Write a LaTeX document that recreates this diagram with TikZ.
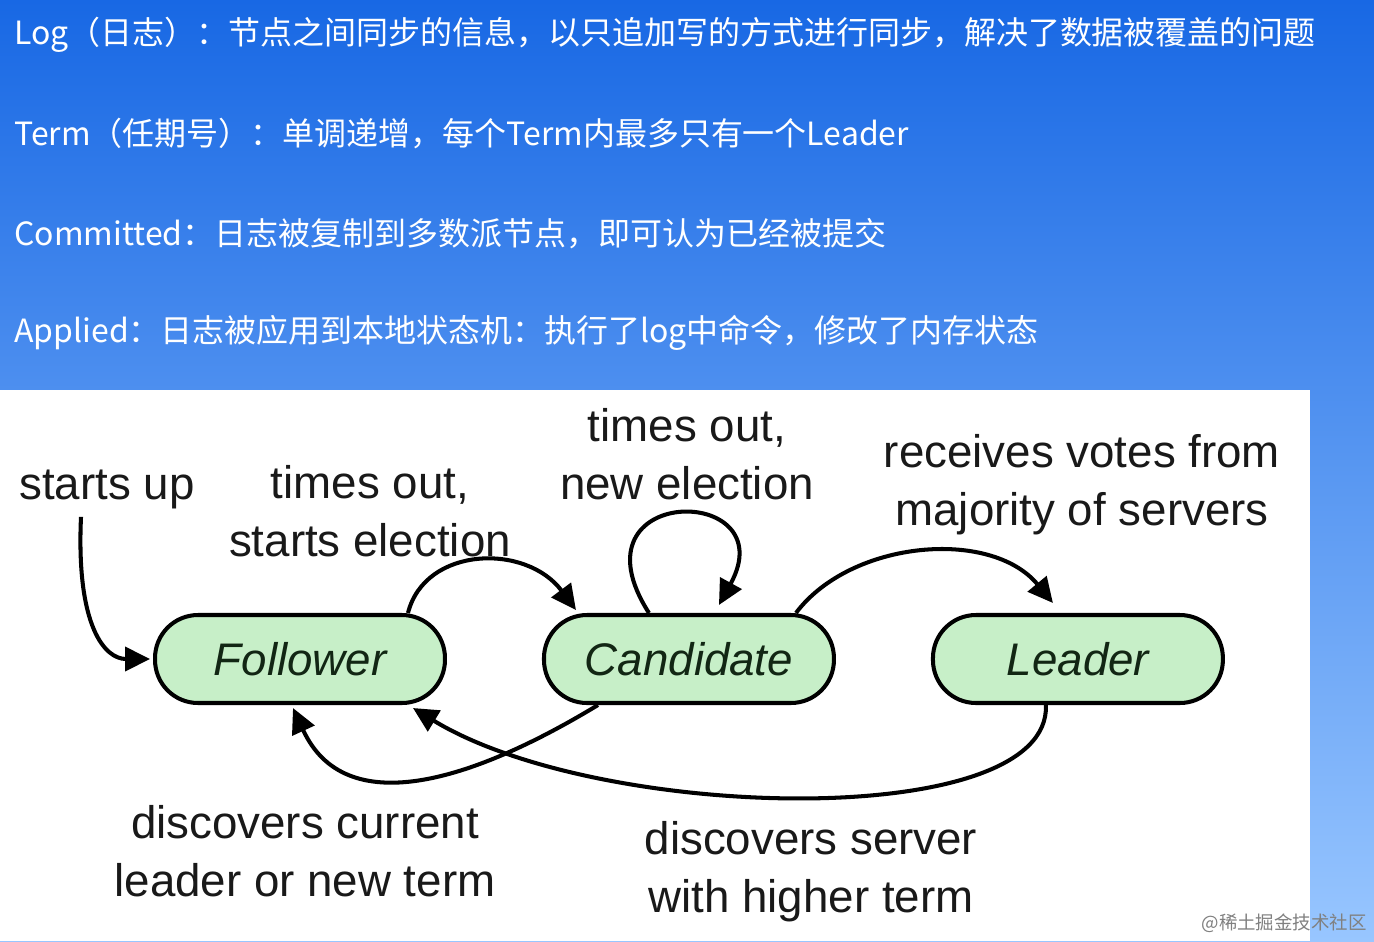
\documentclass[tikz,border=0pt]{standalone}
\usepackage{fontspec}
\setmainfont{Liberation Sans}
\newfontfamily\cjk{Noto Sans CJK SC}
\usepackage{xcolor}
\usepackage{tikz}
\usetikzlibrary{arrows.meta, positioning, calc}
\definecolor{cBgTop}{RGB}{24,104,228}
\definecolor{cBgMid}{RGB}{50,132,237}
\definecolor{cBgBot}{RGB}{152,198,255}
\definecolor{cState}{RGB}{199,239,200}
\definecolor{cStateTxt}{RGB}{18,38,20}
\tikzset{
	state/.style={rectangle, rounded corners=0.86cm, draw=black, line width=2.3pt, fill=cState, minimum width=5.8cm, minimum height=1.76cm, text=cStateTxt, font=\itshape\fontsize{26}{30}\selectfont},
	lbl/.style  ={align=center, inner sep=0pt, font=\fontsize{26}{33}\selectfont, text=black!90},
	note/.style ={anchor=west, inner sep=0pt, text=white, font=\cjk\fontsize{18.2}{22}\selectfont},
	trans/.style={-{Triangle[length=5mm, width=4.8mm]}, line width=2.3pt},
}
\begin{document}
\begin{tikzpicture}[x=0.02cm, y=-0.02cm]
	\useasboundingbox (0,0) rectangle (1374,941);
	\shade[top color=cBgTop, middle color=cBgMid, bottom color=cBgBot] (0,0) rectangle (1374,941);
	\fill[white] (0,390) rectangle (1310,941);
	% definitions on the blue band
	\node[note] (log) at (14,35) {Log（日志）：节点之间同步的信息，以只追加写的方式进行同步，解决了数据被覆盖的问题};
	\node[note] (term) at (14,134) {Term（任期号）：单调递增，每个Term内最多只有一个Leader};
	\node[note] (commit) at (14,234) {Committed：日志被复制到多数派节点，即可认为已经被提交};
	\node[note] (apply) at (14,333) {Applied：日志被应用到本地状态机：执行了log中命令，修改了内存状态};
	% states
	\node[state] (fol) at (300,659) {Follower};
	\node[state, right=1.9cm of fol] (cand) {Candidate};
	\node[state, right=1.9cm of cand] (lead) {Leader};
	% labels
	\node[lbl] (startsup) at (107,489) {starts up};
	\node[lbl] (timeout) at (370,511) {times out,\\ starts election};
	\node[lbl] (newelec) at (687,454) {times out,\\ new election};
	\node[lbl] (votes) at (1082,485) {receives votes from\\ majority of servers};
	\node[lbl] (curlead) at (305,851) {discovers current\\ leader or new term};
	\node[lbl] (higher) at (811,872) {discovers server\\ with higher term};
	\coordinate (suend) at ([xshift=-0.52cm, yshift=-0.16cm]startsup.south);
	% transitions
	\draw[trans] (suend) .. controls +(-5,110) and +(-45,0) .. ([xshift=-0.06cm]fol.west);
	\draw[trans] ([xshift=2.16cm]fol.north) .. controls +(17,-67) and +(-50,-67) .. ([xshift=-2.26cm, yshift=0.06cm]cand.north);
	\draw[trans] ([xshift=-0.8cm]cand.north) .. controls +(-83,-130) and +(67,-122) .. ([xshift=0.6cm, yshift=0.16cm]cand.north);
	\draw[trans] ([xshift=2.14cm]cand.north) .. controls +(55,-73) and +(-62,-75) .. ([xshift=-0.5cm, yshift=0.2cm]lead.north);
	\draw[trans] ([xshift=-1.82cm]cand.south) .. controls +(-127,77) and +(52,113) .. ([xshift=-0.14cm, yshift=-0.06cm]fol.south);
	\draw[trans] ([xshift=-0.64cm]lead.south) .. controls +(5,127) and +(187,114) .. ([xshift=2.26cm, yshift=-0.06cm]fol.south);
	% site mark
	\node[anchor=east, inner sep=0pt, text=black!50, font=\cjk\fontsize{10.5}{12}\selectfont] (mark) at (1367,923) {@稀土掘金技术社区};
\end{tikzpicture}
\end{document}
